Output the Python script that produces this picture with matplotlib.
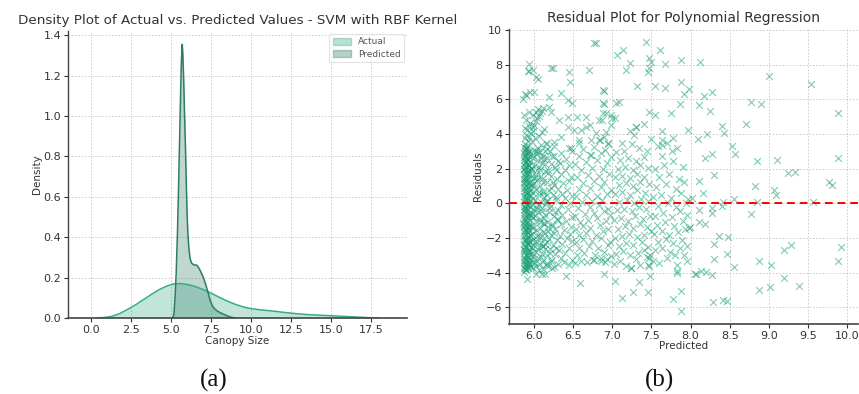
import matplotlib
matplotlib.use("Agg")
import matplotlib.pyplot as plt
from matplotlib.patches import Patch

# ---------------- Data: density curves ----------------
actual_x = [0.3, 0.8, 1.3, 1.8, 2.3, 2.8, 3.3, 3.8, 4.3, 4.8, 5.2, 5.6, 6.0, 6.5, 7.0,
            7.5, 8.0, 8.5, 9.0, 9.5, 10.0, 10.5, 11.0, 11.5, 12.0, 12.5, 13.0, 13.5,
            14.0, 14.5, 15.0, 15.5, 16.0, 16.5, 17.0, 17.5, 18.0]
actual_y = [0.0, 0.002, 0.008, 0.022, 0.043, 0.066, 0.092, 0.118, 0.142, 0.160, 0.169,
            0.170, 0.166, 0.156, 0.141, 0.123, 0.103, 0.084, 0.068, 0.055, 0.046, 0.041,
            0.037, 0.033, 0.028, 0.024, 0.020, 0.017, 0.015, 0.013, 0.011, 0.009, 0.007,
            0.005, 0.003, 0.001, 0.0]

pred_x = [5.10, 5.18, 5.25, 5.32, 5.40, 5.47, 5.54, 5.60, 5.65, 5.70, 5.74, 5.79, 5.84,
          5.90, 5.95, 6.00, 6.05, 6.12, 6.20, 6.30, 6.45, 6.60, 6.72, 6.85, 7.00, 7.15,
          7.30, 7.45, 7.60, 7.75, 7.90, 8.10, 8.30, 8.50, 8.70, 8.90, 9.00]
pred_y = [0.0, 0.02, 0.10, 0.22, 0.42, 0.65, 0.90, 1.12, 1.28, 1.355, 1.30, 1.18, 1.02,
          0.85, 0.68, 0.52, 0.42, 0.34, 0.29, 0.27, 0.262, 0.262, 0.25, 0.23, 0.205, 0.17,
          0.13, 0.085, 0.058, 0.043, 0.034, 0.025, 0.018, 0.011, 0.005, 0.001, 0.0]

density_xticks = [0.0, 2.5, 5.0, 7.5, 10.0, 12.5, 15.0, 17.5]
density_yticks = [0.0, 0.2, 0.4, 0.6, 0.8, 1.0, 1.2, 1.4]
series_labels = ["Actual", "Predicted"]

# ---------------- Data: residual scatter ----------------
pts_core = [
    (5.874,-3.93),(5.903,-3.86),(5.886,-3.81),(5.921,-3.74),(5.868,-3.70),(5.912,-3.63),(5.941,-3.58),(5.879,-3.51),(5.897,-3.49),(5.933,-3.41),
    (5.865,-3.37),(5.908,-3.31),(5.952,-3.27),(5.883,-3.20),(5.926,-3.14),(5.871,-3.09),(5.915,-3.03),(5.893,-2.97),(5.947,-2.92),(5.877,-2.85),
    (5.918,-2.81),(5.889,-2.74),(5.936,-2.70),(5.866,-2.63),(5.904,-2.57),(5.958,-2.54),(5.881,-2.46),(5.927,-2.41),(5.872,-2.35),(5.911,-2.30),
    (5.944,-2.22),(5.885,-2.18),(5.899,-2.11),(5.869,-2.06),(5.931,-2.01),(5.914,-1.94),(5.876,-1.88),(5.953,-1.83),(5.891,-1.77),(5.922,-1.71),
    (5.867,-1.66),(5.906,-1.59),(5.938,-1.54),(5.882,-1.47),(5.917,-1.43),(5.873,-1.36),(5.949,-1.31),(5.895,-1.25),(5.929,-1.19),(5.864,-1.14),
    (5.909,-1.08),(5.887,-1.01),(5.942,-0.97),(5.878,-0.90),(5.919,-0.86),(5.898,-0.79),(5.956,-0.74),(5.870,-0.69),(5.913,-0.62),(5.935,-0.57),
    (5.884,-0.51),(5.901,-0.46),(5.866,-0.39),(5.925,-0.35),(5.890,-0.28),(5.946,-0.23),(5.875,-0.17),(5.916,-0.12),(5.896,-0.06),(5.932,0.01),
    (5.868,0.06),(5.907,0.12),(5.951,0.18),(5.880,0.23),(5.923,0.30),(5.892,0.35),(5.872,0.41),(5.939,0.47),(5.910,0.52),(5.886,0.59),
    (5.928,0.64),(5.865,0.70),(5.903,0.75),(5.955,0.81),(5.877,0.87),(5.918,0.92),(5.894,0.99),(5.943,1.04),(5.869,1.10),(5.911,1.16),
    (5.934,1.21),(5.883,1.27),(5.900,1.33),(5.873,1.38),(5.926,1.44),(5.957,1.50),(5.888,1.55),(5.914,1.61),(5.867,1.67),(5.937,1.73),
    (5.897,1.78),(5.879,1.84),(5.921,1.90),(5.948,1.95),(5.871,2.01),(5.906,2.07),(5.890,2.12),(5.930,2.18),(5.866,2.24),(5.913,2.29),
    (5.882,2.35),(5.944,2.41),(5.899,2.46),(5.875,2.52),(5.924,2.58),(5.908,2.63),(5.869,2.69),(5.936,2.75),(5.886,2.80),(5.915,2.86),
    (5.873,2.92),(5.902,2.97),(5.929,3.03),(5.880,3.09),(5.911,3.14),(5.893,3.21),(5.868,3.27),(5.904,3.33),
    (5.895,-3.77),(5.930,-3.47),(5.877,-3.24),(5.905,-2.99),(5.945,-2.76),(5.884,-2.52),(5.919,-2.27),(5.898,-2.03),(5.954,-1.81),(5.881,-1.56),
    (5.928,-1.33),(5.902,-1.11),(5.870,-0.83),(5.940,-0.60),(5.892,-0.32),(5.917,-0.09),(5.878,0.15),(5.947,0.40),(5.906,0.66),(5.885,0.95),
    (5.931,1.19),(5.894,1.46),(5.920,1.71),(5.874,1.97),(5.939,2.21),(5.909,2.49),(5.883,2.72),(5.927,2.95),(5.896,3.18),
    (5.889,-3.62),(5.914,-3.18),(5.872,-2.68),(5.934,-2.15),(5.900,-1.62),(5.866,-1.22),(5.925,-0.72),(5.887,-0.20),(5.911,0.27),(5.953,0.73),
    (5.876,1.24),(5.921,1.86),(5.899,2.38),(5.941,2.90),
]
pts_arm = [
    (5.89,3.45),(5.92,3.60),(5.88,3.75),(5.94,3.82),(5.90,3.95),(5.96,4.05),(5.91,4.22),(5.88,4.35),(5.93,4.45),(5.98,4.38),
    (6.00,4.55),(5.95,4.62),(6.02,4.75),(5.90,4.82),(6.04,4.92),(6.06,5.05),(5.99,5.12),(6.08,5.20),(6.03,5.30),(6.10,5.35),
    (5.87,5.12),(6.05,5.45),(6.12,5.50),(5.93,5.25),(5.97,3.55),(6.01,3.75),(6.06,3.90),(5.99,4.15),(6.10,4.10),(6.13,4.30),
    (5.86,6.00),(5.88,6.32),(5.90,6.28),(5.95,6.42),(5.92,7.62),(5.94,7.65),(5.93,8.02),(5.99,7.68),(6.02,7.30),(6.05,7.18),
    (6.24,7.82),(6.00,6.45),
]
pts_band2 = [
    (5.98,-3.75),(6.03,-3.60),(6.08,-3.50),(6.00,-3.38),(6.12,-3.30),(6.05,-3.15),(5.99,-3.02),(6.10,-2.90),(6.02,-2.78),(6.14,-2.65),
    (6.06,-2.52),(5.98,-2.40),(6.09,-2.28),(6.01,-2.15),(6.13,-2.02),(6.04,-1.90),(5.97,-1.78),(6.11,-1.65),(6.03,-1.52),(6.07,-1.40),
    (5.99,-1.28),(6.12,-1.15),(6.02,-1.02),(6.08,-0.90),(5.98,-0.78),(6.14,-0.65),(6.05,-0.52),(6.00,-0.40),(6.10,-0.28),(6.03,-0.15),
    (5.97,-0.02),(6.09,0.10),(6.01,0.22),(6.13,0.35),(6.06,0.48),(5.99,0.60),(6.11,0.72),(6.02,0.85),(6.07,0.98),(5.98,1.10),
    (6.12,1.22),(6.04,1.35),(6.00,1.48),(6.09,1.60),(6.03,1.72),(6.14,1.85),(5.97,1.98),(6.06,2.10),(6.01,2.22),(6.10,2.35),
    (6.04,2.48),(5.99,2.60),(6.12,2.72),(6.02,2.85),(6.07,2.98),(6.00,3.10),(6.05,3.22),(6.09,3.35),
    (6.06,-3.82),(6.00,-3.20),(6.11,-2.45),(5.98,-2.60),(6.07,-1.95),(6.13,-1.20),(6.01,-0.70),(6.06,-0.10),(6.12,0.60),(6.00,1.20),
    (6.08,1.90),(6.13,2.55),(6.03,3.00),(6.15,-3.55),(6.15,0.05),(6.14,3.05),
    (5.91,-4.38),(6.03,-4.08),(6.10,-4.05),(6.14,-4.10),(6.41,-4.19),(6.59,-4.62),
    (5.962,-3.68),(6.015,-3.42),(6.085,-3.12),(6.165,-3.45),(6.225,-3.72),(5.975,-2.88),(6.045,-2.62),(6.135,-2.36),(6.205,-2.84),(6.275,-2.55),
    (5.968,-2.12),(6.055,-1.83),(6.115,-2.48),(6.185,-2.05),(6.255,-1.72),(5.985,-1.42),(6.075,-1.08),(6.145,-1.71),(6.235,-1.18),(6.295,-0.92),
    (5.972,-0.58),(6.035,-0.33),(6.125,-0.82),(6.195,-0.27),(6.265,-0.48),(5.992,0.32),(6.065,0.68),(6.155,0.12),(6.215,0.88),(6.285,0.35),
    (5.978,1.05),(6.025,1.55),(6.105,1.38),(6.175,1.78),(6.245,1.22),(5.965,2.05),(6.085,2.62),(6.145,2.28),(6.225,2.72),(6.285,1.95),
    (5.982,2.78),(6.052,2.95),(6.165,3.12),(6.235,-3.25),(6.118,-3.78),(6.042,-2.25),(6.182,-1.35),(6.098,-0.45),(6.162,0.48),(6.032,1.95),
]
pts_mid1 = [
    (6.18,-3.60),(6.25,-3.65),(6.30,-3.50),(6.38,-3.40),(6.45,-3.55),(6.22,-3.30),(6.34,-3.15),(6.48,-3.25),(6.17,-3.00),(6.27,-2.90),
    (6.40,-2.85),(6.20,-2.65),(6.32,-2.70),(6.44,-2.55),(6.24,-2.40),(6.36,-2.35),(6.16,-2.20),(6.29,-2.10),(6.42,-2.00),(6.49,-2.15),
    (6.21,-1.85),(6.33,-1.90),(6.46,-1.75),(6.18,-1.60),(6.27,-1.50),(6.38,-1.55),(6.23,-1.30),(6.35,-1.20),(6.47,-1.35),(6.17,-1.05),
    (6.30,-0.95),(6.41,-1.00),(6.25,-0.75),(6.36,-0.65),(6.48,-0.80),(6.19,-0.50),(6.31,-0.40),(6.43,-0.35),(6.22,-0.15),(6.34,-0.10),
    (6.46,0.05),(6.17,0.15),(6.28,0.20),(6.39,0.30),(6.24,0.50),(6.36,0.55),(6.48,0.45),(6.19,0.75),(6.31,0.85),(6.42,0.80),
    (6.26,1.05),(6.37,1.15),(6.16,1.25),(6.45,1.30),(6.29,1.40),(6.21,1.60),(6.34,1.70),(6.47,1.55),(6.18,1.90),(6.39,1.95),
    (6.27,2.10),(6.44,2.20),(6.22,2.30),(6.33,2.35),(6.30,2.45),(6.17,2.60),(6.26,2.75),(6.41,2.55),(6.35,2.90),(6.20,3.00),
    (6.48,3.05),(6.25,3.30),(6.16,3.40),(6.44,3.20),
]
pts_mid2 = [
    (6.52,-3.45),(6.60,-3.30),(6.68,-3.40),(6.75,-3.25),(6.85,-3.35),(6.93,-3.20),(6.55,-3.00),(6.64,-2.85),(6.78,-2.95),(6.90,-2.80),
    (6.98,-3.05),(6.58,-2.55),(6.70,-2.45),(6.82,-2.60),(6.95,-2.40),(6.53,-2.20),(6.62,-2.05),(6.74,-2.15),(6.86,-2.00),(6.97,-2.20),
    (6.57,-1.80),(6.67,-1.70),(6.79,-1.85),(6.88,-1.60),(6.54,-1.45),(6.63,-1.30),(6.72,-1.40),(6.84,-1.25),(6.94,-1.50),(6.59,-1.05),
    (6.69,-0.95),(6.81,-0.85),(6.92,-1.00),(6.52,-0.70),(6.65,-0.60),(6.76,-0.55),(6.89,-0.45),(6.97,-0.65),(6.56,-0.25),(6.71,-0.20),
    (6.83,-0.10),(6.95,-0.30),(6.61,0.10),(6.74,0.15),(6.87,0.20),(6.53,0.40),(6.66,0.50),(6.80,0.45),(6.93,0.55),(6.58,0.85),
    (6.72,0.90),(6.85,0.95),(6.98,0.80),(6.63,1.20),(6.77,1.30),(6.90,1.25),(6.55,1.55),(6.69,1.65),(6.83,1.60),(6.96,1.70),
    (6.60,1.95),(6.74,2.05),(6.88,2.00),(6.52,2.30),(6.66,2.40),(6.80,2.50),(6.93,2.35),(6.57,2.75),(6.71,2.80),(6.86,2.90),
    (6.98,2.70),(6.62,3.15),(6.77,3.25),(6.91,3.10),(6.58,3.65),(6.73,3.65),(6.83,3.65),(6.94,3.46),(6.79,4.04),(6.90,3.85),
]
pts_mid3 = [
    (7.02,-3.50),(7.10,-3.35),(7.18,-3.60),(7.24,-3.74),(7.30,-3.20),(7.35,-3.55),(7.44,-3.07),(7.47,-3.17),(7.46,-3.55),(7.05,-2.90),
    (7.14,-2.75),(7.22,-3.00),(7.33,-2.85),(7.41,-2.70),(7.48,-2.95),(7.08,-2.45),(7.17,-2.30),(7.27,-2.40),(7.38,-2.20),(7.45,-2.50),
    (7.03,-2.00),(7.12,-1.90),(7.21,-1.75),(7.31,-1.95),(7.40,-1.80),(7.49,-1.60),(7.07,-1.45),(7.16,-1.30),(7.26,-1.40),(7.36,-1.20),
    (7.44,-1.35),(7.02,-0.95),(7.11,-0.85),(7.20,-1.00),(7.29,-0.75),(7.39,-0.90),(7.48,-0.70),(7.06,-0.40),(7.15,-0.30),(7.25,-0.45),
    (7.34,-0.20),(7.43,-0.35),(7.09,0.10),(7.19,0.20),(7.28,0.05),(7.37,0.25),(7.46,0.15),(7.04,0.55),(7.13,0.65),(7.23,0.50),
    (7.32,0.75),(7.42,0.60),(7.08,1.05),(7.17,1.15),(7.27,1.00),(7.36,1.25),(7.47,1.10),(7.03,1.50),(7.12,1.60),(7.22,1.45),
    (7.31,1.70),(7.41,1.55),(7.07,2.00),(7.16,2.10),(7.26,1.95),(7.35,2.20),(7.45,2.05),(7.10,2.50),(7.20,2.60),(7.30,2.45),
    (7.40,2.70),(7.05,2.95),(7.15,3.05),(7.25,3.40),(7.34,3.20),(7.44,3.00),(7.30,4.41),(7.275,3.96),(7.40,4.60),(7.49,3.74),
    (7.12,3.50),(7.22,4.20),
]
pts_mid4 = [
    (7.52,-3.30),(7.60,-3.45),(7.70,-3.17),(7.80,-2.97),(7.825,-3.55),(7.91,-2.97),(7.96,-3.30),(7.55,-2.70),(7.64,-2.55),(7.74,-2.80),
    (7.86,-2.60),(7.95,-2.45),(7.58,-2.20),(7.68,-2.05),(7.78,-2.30),(7.89,-2.10),(7.53,-1.75),(7.63,-1.60),(7.72,-1.85),(7.84,-1.65),
    (7.93,-1.50),(7.57,-1.25),(7.67,-1.10),(7.79,-1.30),(7.90,-1.00),(7.98,-1.40),(7.54,-0.70),(7.65,-0.55),(7.76,-0.80),(7.87,-0.45),
    (7.96,-0.65),(7.59,-0.15),(7.71,0.00),(7.82,-0.20),(7.94,0.05),(7.52,0.35),(7.62,0.50),(7.75,0.30),(7.88,0.60),(7.97,0.25),
    (7.56,0.95),(7.69,1.10),(7.81,0.85),(7.92,1.25),(7.60,1.50),(7.73,1.70),(7.85,1.40),(7.55,2.00),(7.66,2.20),(7.78,2.45),
    (7.90,2.10),(7.63,2.75),(7.76,3.00),(7.58,3.30),(7.70,3.50),(7.83,3.20),(7.635,4.20),(7.63,3.64),(7.63,3.35),(7.78,3.77),
    (7.965,4.25),
]
pts_upper = [
    (6.79,9.24),(7.43,9.33),(7.06,8.57),(7.14,8.87),(7.61,8.85),(7.23,8.10),(7.17,7.67),(7.47,8.37),(7.49,8.14),(7.46,7.57),
    (7.47,7.80),(7.67,8.05),(7.88,8.28),(7.88,6.99),(7.98,6.61),(7.91,6.32),(7.55,6.75),(7.67,6.65),(7.32,6.75),(6.89,6.50),
    (7.08,5.86),(6.89,5.71),(6.98,5.08),(7.03,4.92),(6.87,4.79),(7.465,5.27),(7.54,5.08),(7.75,5.23),(7.86,5.75),(6.72,4.50),
    (6.915,4.12),(6.84,3.64),(6.94,3.45),(7.30,4.41),
    (6.21,7.79),(6.44,7.60),(6.46,7.00),(6.70,7.69),(6.76,9.27),(6.19,6.15),(6.34,6.35),(6.43,5.96),(6.49,5.77),(6.19,5.58),
    (6.21,5.29),(6.32,4.81),(6.43,5.00),(6.55,5.00),(6.66,5.00),(6.43,4.42),(6.51,4.23),(6.60,4.23),(6.66,4.42),(6.88,6.54),
    (6.88,5.77),(6.88,5.19),(6.83,4.81),(6.92,5.19),(7.05,5.77),(7.00,4.90),(6.98,4.52),(6.34,3.85),(6.26,3.56),(6.15,3.46),
    (6.47,3.17),(6.58,3.46),(6.73,2.79),
]
pts_lower = [
    (7.03,-4.47),(6.90,-4.05),(7.12,-5.46),(7.26,-5.10),(7.34,-4.51),(7.45,-5.14),(7.77,-5.54),(7.88,-5.08),(7.88,-6.19),(7.83,-4.03),
    (7.83,-3.89),(8.07,-4.08),(6.77,-3.26),(6.91,-3.40),(6.85,-3.17),(7.24,-3.74),(7.48,-4.20),(7.47,-3.60),
]
pts_right = [
    (8.12,8.18),(9.00,7.34),(9.545,6.90),(8.17,6.19),(8.27,6.42),(8.11,5.65),(8.25,5.33),(8.77,5.84),(8.90,5.71),(9.88,5.23),
    (8.71,4.56),(8.40,4.44),(8.43,4.06),(8.10,3.70),(8.215,3.98),(8.525,3.33),(8.57,2.82),(8.19,2.64),(8.28,2.83),(8.855,2.43),
    (9.11,2.53),(9.89,2.60),(9.24,1.74),(9.33,1.80),(8.30,1.65),(8.105,1.30),(8.82,1.01),(9.775,1.24),(9.81,1.05),(8.165,0.61),
    (9.07,0.75),(9.09,0.48),(8.016,0.32),(8.56,0.27),(8.41,0.09),(8.855,0.09),(9.56,0.07),(8.11,-0.38),(8.27,-0.25),(8.27,-0.54),
    (8.40,-0.16),(8.77,-0.61),(7.995,-1.38),(8.11,-1.07),(8.19,-1.21),(8.36,-1.86),(8.48,-1.92),(8.30,-2.32),(8.46,-2.90),(8.30,-3.20),
    (8.55,-3.68),(9.20,-2.70),(9.29,-2.42),(9.92,-2.53),(9.88,-3.34),(8.87,-3.34),(9.03,-3.53),(8.06,-4.08),(8.13,-3.89),(8.20,-3.93),
    (8.27,-4.14),(9.20,-4.32),(9.385,-4.74),(8.87,-5.02),(9.02,-4.85),(8.29,-5.66),(8.42,-5.60),(8.46,-5.64),
]

resid_xticks = [6.0, 6.5, 7.0, 7.5, 8.0, 8.5, 9.0, 9.5, 10.0]
resid_yticks = [-6, -4, -2, 0, 2, 4, 6, 8, 10]
panel_labels = ["(a)", "(b)"]

all_pts = pts_core + pts_arm + pts_band2 + pts_mid1 + pts_mid2 + pts_mid3 + pts_mid4 + pts_upper + pts_lower + pts_right
predicted = [p[0] for p in all_pts]
residuals = [p[1] for p in all_pts]

# ---------------- Styling ----------------
plt.rcParams["font.family"] = ["DejaVu Sans"]
actual_color = "#38ab86"
pred_color = "#2d7c63"
scatter_color = "#1b9e77"
spine_color = "#444444"
text_color = "#333333"
grid_kw = dict(color="#c8c8c8", linestyle=(0, (2, 2)), linewidth=0.6)

fig = plt.figure(figsize=(8.59, 3.94), dpi=100)

# ---------------- Panel (a) ----------------
ax1 = fig.add_axes([0.0792, 0.193, 0.3946, 0.728])
ax1.fill_between(actual_x, actual_y, 0, color=actual_color, alpha=0.3, linewidth=0)
ax1.plot(actual_x, actual_y, color=actual_color, linewidth=1.1)
ax1.fill_between(pred_x, pred_y, 0, color=pred_color, alpha=0.3, linewidth=0)
ax1.plot(pred_x, pred_y, color=pred_color, linewidth=1.1)
ax1.set_xlim(-1.44, 19.75)
ax1.set_ylim(0, 1.42)
ax1.set_xticks(density_xticks)
ax1.set_yticks(density_yticks)
ax1.set_xticklabels([f"{v:.1f}" for v in density_xticks])
ax1.set_yticklabels([f"{v:.1f}" for v in density_yticks])
ax1.grid(True, **grid_kw)
ax1.set_axisbelow(True)
ax1.set_title("Density Plot of Actual vs. Predicted Values - SVM with RBF Kernel",
              fontsize=9.7, color=text_color, pad=5)
ax1.set_xlabel("Canopy Size", fontsize=7.5, color=text_color, labelpad=1)
ax1.set_ylabel("Density", fontsize=7.5, color=text_color, labelpad=1)
handles = [Patch(facecolor=actual_color, alpha=0.35, edgecolor=actual_color),
           Patch(facecolor=pred_color, alpha=0.35, edgecolor=pred_color)]
leg = ax1.legend(handles, series_labels, loc="upper right", fontsize=6.5,
                 frameon=True, borderaxespad=0.3, handlelength=2.0, handleheight=0.8,
                 labelspacing=0.35, fancybox=False, borderpad=0.4)
leg.get_frame().set_edgecolor("#dddddd")
leg.get_frame().set_linewidth(0.8)
for t in leg.get_texts():
    t.set_color("#555555")

# ---------------- Panel (b) ----------------
ax2 = fig.add_axes([0.5926, 0.178, 0.4062, 0.748])
ax2.scatter(predicted, residuals, marker="x", s=24, linewidths=0.8,
            color=scatter_color, alpha=0.55, zorder=2)
ax2.axhline(0, color="red", linestyle=(0, (4, 2.5)), linewidth=1.4, zorder=3)
ax2.set_xlim(5.68, 10.14)
ax2.set_ylim(-6.95, 10.05)
ax2.set_xticks(resid_xticks)
ax2.set_yticks(resid_yticks)
ax2.set_xticklabels([f"{v:.1f}" for v in resid_xticks])
ax2.grid(True, **grid_kw)
ax2.set_axisbelow(True)
ax2.set_title("Residual Plot for Polynomial Regression", fontsize=10,
              color=text_color, pad=5)
ax2.set_xlabel("Predicted", fontsize=7.5, color=text_color, labelpad=0)
ax2.set_ylabel("Residuals", fontsize=7.5, color=text_color, labelpad=2)

for ax in (ax1, ax2):
    ax.spines["top"].set_visible(False)
    ax.spines["right"].set_visible(False)
    ax.spines["left"].set_color(spine_color)
    ax.spines["bottom"].set_color(spine_color)
    ax.spines["left"].set_linewidth(1.0)
    ax.spines["bottom"].set_linewidth(1.2)
    ax.tick_params(axis="both", labelsize=8, colors=text_color, length=3,
                   width=0.8, pad=2)

# ---------------- Sub-figure labels ----------------
for lbl, xpix in zip(panel_labels, [214, 660]):
    fig.text(xpix / 859, 1 - 380 / 394, lbl, ha="center", va="center",
             fontsize=18, family="Liberation Serif", color="#111111")

fig.savefig("out.png", dpi=100)
